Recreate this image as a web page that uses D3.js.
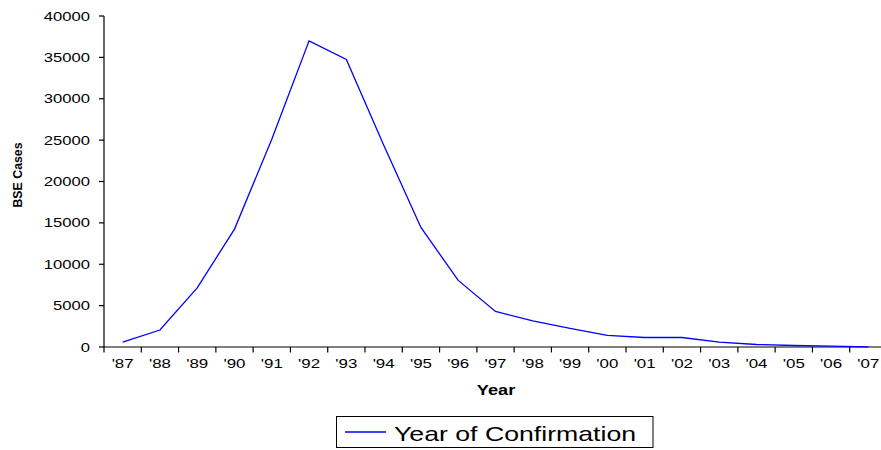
<!DOCTYPE html>
<html>
<head>
<meta charset="utf-8">
<script src="https://cdn.jsdelivr.net/npm/d3@7"></script>
<style>
  html, body { margin: 0; padding: 0; background: #fff; }
  svg { display: block; font-family: "Liberation Sans", Arial, sans-serif; }
</style>
</head>
<body>
<svg id="chart" width="881" height="450"></svg>
<script>
// BSE cases by year of confirmation
const years = ["'87","'88","'89","'90","'91","'92","'93","'94","'95","'96","'97",
               "'98","'99","'00","'01","'02","'03","'04","'05","'06","'07"];
const cases = [600, 2050, 7150, 14250, 25100, 37000, 34750, 24400, 14450, 8050, 4300,
               3150, 2250, 1400, 1150, 1150, 600, 300, 180, 100, 20];
const yTicks = [0, 5000, 10000, 15000, 20000, 25000, 30000, 35000, 40000];
const seriesName = "Year of Confirmation";
const xTitle = "Year";
const yTitle = "BSE Cases";

const svg = d3.select("#chart");
const plotL = 104, plotR = 887, plotT = 16, plotB = 347;
const stretch = 1.33; // horizontal widening of the lettering

const x = d3.scaleBand().domain(years).range([plotL, plotR]);
const y = d3.scaleLinear().domain([0, 40000]).range([plotB, plotT]);

// y axis
const yAxis = svg.append("g").attr("transform", `translate(${plotL},0)`);
yAxis.append("line").attr("x1", 0).attr("x2", 0).attr("y1", plotT).attr("y2", plotB)
  .attr("stroke", "#000").attr("stroke-width", 1.2);
yAxis.selectAll("line.tick").data(yTicks).join("line").attr("class", "tick")
  .attr("x1", -5).attr("x2", 0).attr("y1", d => y(d)).attr("y2", d => y(d))
  .attr("stroke", "#000").attr("stroke-width", 1.2);
yAxis.selectAll("text").data(yTicks).join("text")
  .attr("transform", d => `translate(-14,${y(d) + 4.5}) scale(${stretch},1)`)
  .attr("text-anchor", "end").attr("font-size", 12.5).attr("fill", "#000")
  .text(d => d);

// x axis
const xAxis = svg.append("g").attr("transform", `translate(0,${plotB})`);
xAxis.append("line").attr("x1", plotL).attr("x2", plotR).attr("y1", 0).attr("y2", 0)
  .attr("stroke", "#000").attr("stroke-width", 1.2);
const bounds = years.map(d => x(d)).concat([plotR]);
xAxis.selectAll("line.tick").data(bounds).join("line").attr("class", "tick")
  .attr("x1", d => d).attr("x2", d => d).attr("y1", 0).attr("y2", 5.5)
  .attr("stroke", "#000").attr("stroke-width", 1.2);
xAxis.selectAll("text").data(years).join("text")
  .attr("transform", d => `translate(${x(d) + x.bandwidth() / 2},21) scale(1.25,1)`)
  .attr("text-anchor", "middle").attr("font-size", 13.5).attr("fill", "#000")
  .text(d => d);

// axis titles
svg.append("text")
  .attr("transform", `translate(496,395) scale(1.3,1)`)
  .attr("text-anchor", "middle").attr("font-size", 14).attr("font-weight", "bold")
  .text(xTitle);
svg.append("text")
  .attr("transform", `translate(21.5,175) rotate(-90) scale(0.95,1.05)`)
  .attr("text-anchor", "middle").attr("font-size", 13).attr("font-weight", "bold")
  .text(yTitle);

// series line
const line = d3.line()
  .x((d, i) => x(years[i]) + x.bandwidth() / 2)
  .y(d => y(d));
svg.append("path").datum(cases)
  .attr("d", line).attr("fill", "none")
  .attr("stroke", "#0000ff").attr("stroke-width", 1.3);

// legend
const lg = svg.append("g");
lg.append("rect").attr("x", 336.5).attr("y", 416.5).attr("width", 316.5).attr("height", 31)
  .attr("fill", "#fff").attr("stroke", "#000").attr("stroke-width", 1);
lg.append("line").attr("x1", 345).attr("x2", 386).attr("y1", 432).attr("y2", 432)
  .attr("stroke", "#0000ff").attr("stroke-width", 1.3);
lg.append("text")
  .attr("transform", `translate(394,441) scale(1.27,1)`)
  .attr("font-size", 21).attr("fill", "#000")
  .text(seriesName);
</script>
</body>
</html>
